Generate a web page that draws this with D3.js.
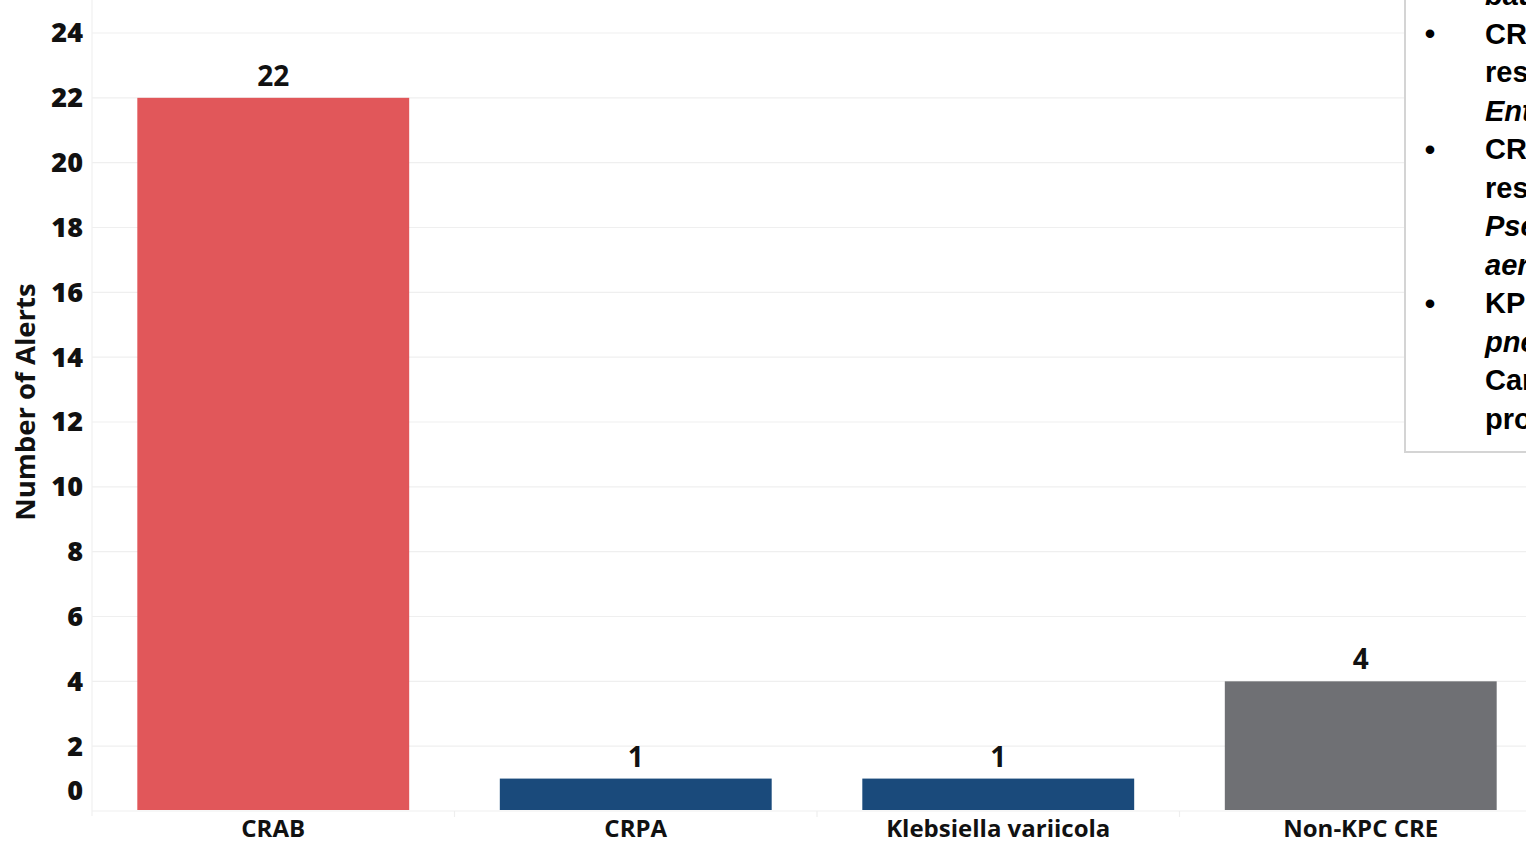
<!DOCTYPE html>
<html>
<head>
<meta charset="utf-8">
<script src="https://cdn.jsdelivr.net/npm/d3@7"></script>
<style>
  html, body { margin: 0; padding: 0; background: #fff; overflow: hidden; }
  svg { display: block; }
</style>
</head>
<body>
<svg id="chart" width="1526" height="844"></svg>
<script>
const categories = ["CRAB", "CRPA", "Klebsiella variicola", "Non-KPC CRE"];
const values = [22, 1, 1, 4];
const barColors = ["#E1575A", "#1A4A7B", "#6F7074"];
const colorIndex = [0, 1, 1, 2];
const yTicks = [0, 2, 4, 6, 8, 10, 12, 14, 16, 18, 20, 22, 24];
const yTitle = "Number of Alerts";
const noteLines = [
  {bullet: false, text: "baumannii", italic: true},
  {bullet: true,  text: "CRE: Carbapenem-", italic: false},
  {bullet: false, text: "resistant", italic: false},
  {bullet: false, text: "Enterobacterales", italic: true},
  {bullet: true,  text: "CRPA: Carbapenem-", italic: false},
  {bullet: false, text: "resistant", italic: false},
  {bullet: false, text: "Pseudomonas", italic: true},
  {bullet: false, text: "aeruginosa", italic: true},
  {bullet: true,  text: "KPC: Klebsiella", italic: false},
  {bullet: false, text: "pneumoniae", italic: true},
  {bullet: false, text: "Carbapenemase", italic: false},
  {bullet: false, text: "producing", italic: false}
];

const svg = d3.select("#chart");
const plotLeft = 92, plotRight = 1542, plotTop = 33, plotBottom = 811;

const x = d3.scaleBand().domain(categories).range([plotLeft, plotRight])
  .paddingInner(0.25).paddingOuter(0.125);
const y = d3.scaleLinear().domain([0, 24]).range([plotBottom, plotTop]);

// gridlines
svg.append("g").selectAll("line").data(yTicks).join("line")
  .attr("x1", plotLeft).attr("x2", 1526)
  .attr("y1", d => y(d)).attr("y2", d => y(d))
  .attr("stroke", "#efefef").attr("stroke-width", 1.2);

// vertical axis line
svg.append("line").attr("x1", plotLeft).attr("x2", plotLeft)
  .attr("y1", 0).attr("y2", plotBottom + 5)
  .attr("stroke", "#f0f0f0").attr("stroke-width", 1.2);

// x band separators
const bandEdges = categories.map(c => x(c) - x.step() * x.paddingInner() / 2 );
svg.append("g").selectAll("line").data(bandEdges.slice(1)).join("line")
  .attr("x1", d => d).attr("x2", d => d)
  .attr("y1", plotBottom).attr("y2", plotBottom + 6)
  .attr("stroke", "#eeeeee").attr("stroke-width", 1.2);

// bars
svg.append("g").selectAll("rect").data(values).join("rect")
  .attr("x", (d, i) => x(categories[i]))
  .attr("width", x.bandwidth())
  .attr("y", d => y(d))
  .attr("height", d => y(0) - y(d) - 1)
  .attr("fill", (d, i) => barColors[colorIndex[i]]);

// value labels
svg.append("g").selectAll("text").data(values).join("text")
  .attr("x", (d, i) => x(categories[i]) + x.bandwidth() / 2)
  .attr("y", d => y(d) - 12)
  .attr("text-anchor", "middle")
  .attr("font-family", "'Open Sans', sans-serif")
  .attr("font-weight", 700)
  .attr("font-size", 28)
  .attr("fill", "#111")
  .text(d => d);

// y tick labels
svg.append("g").selectAll("text").data(yTicks).join("text")
  .attr("x", 83)
  .attr("y", d => d === 0 ? y(d) - 20 : y(d))
  .attr("dy", "0.35em")
  .attr("text-anchor", "end")
  .attr("font-family", "'Open Sans', sans-serif")
  .attr("font-weight", 800)
  .attr("font-size", 27)
  .attr("fill", "#111")
  .text(d => d);

// x category labels
svg.append("g").selectAll("text").data(categories).join("text")
  .attr("x", d => x(d) + x.bandwidth() / 2)
  .attr("y", 829)
  .attr("dy", "0.35em")
  .attr("text-anchor", "middle")
  .attr("font-family", "'Open Sans', sans-serif")
  .attr("font-weight", 700)
  .attr("font-size", 24)
  .attr("fill", "#111")
  .text(d => d);

// y title
svg.append("text")
  .attr("transform", "translate(25,402) rotate(-90)")
  .attr("dy", "0.35em")
  .attr("text-anchor", "middle")
  .attr("font-family", "'Open Sans', sans-serif")
  .attr("font-weight", 700)
  .attr("font-size", 27.5)
  .attr("fill", "#111")
  .text(yTitle);

// note box
const box = svg.append("g");
box.append("rect")
  .attr("x", 1405).attr("y", -10).attr("width", 200).attr("height", 462)
  .attr("fill", "#fff").attr("stroke", "#d4d4d4").attr("stroke-width", 2);

const lineH = 38.5;
const firstY = -5;
noteLines.forEach((ln, i) => {
  const yy = firstY + i * lineH;
  if (ln.bullet) {
    box.append("text").attr("x", 1430).attr("y", yy).attr("dy", "0.35em")
      .attr("text-anchor", "middle")
      .attr("font-family", "'Liberation Sans', Arial, sans-serif")
      .attr("font-weight", 700).attr("font-size", 30).attr("fill", "#000")
      .text("•");
  }
  box.append("text").attr("x", 1485).attr("y", yy).attr("dy", "0.35em")
    .attr("font-family", "'Liberation Sans', Arial, sans-serif")
    .attr("font-weight", 700).attr("font-size", 29)
    .attr("font-style", ln.italic ? "italic" : "normal")
    .attr("fill", "#000")
    .text(ln.text);
});
</script>
</body>
</html>
